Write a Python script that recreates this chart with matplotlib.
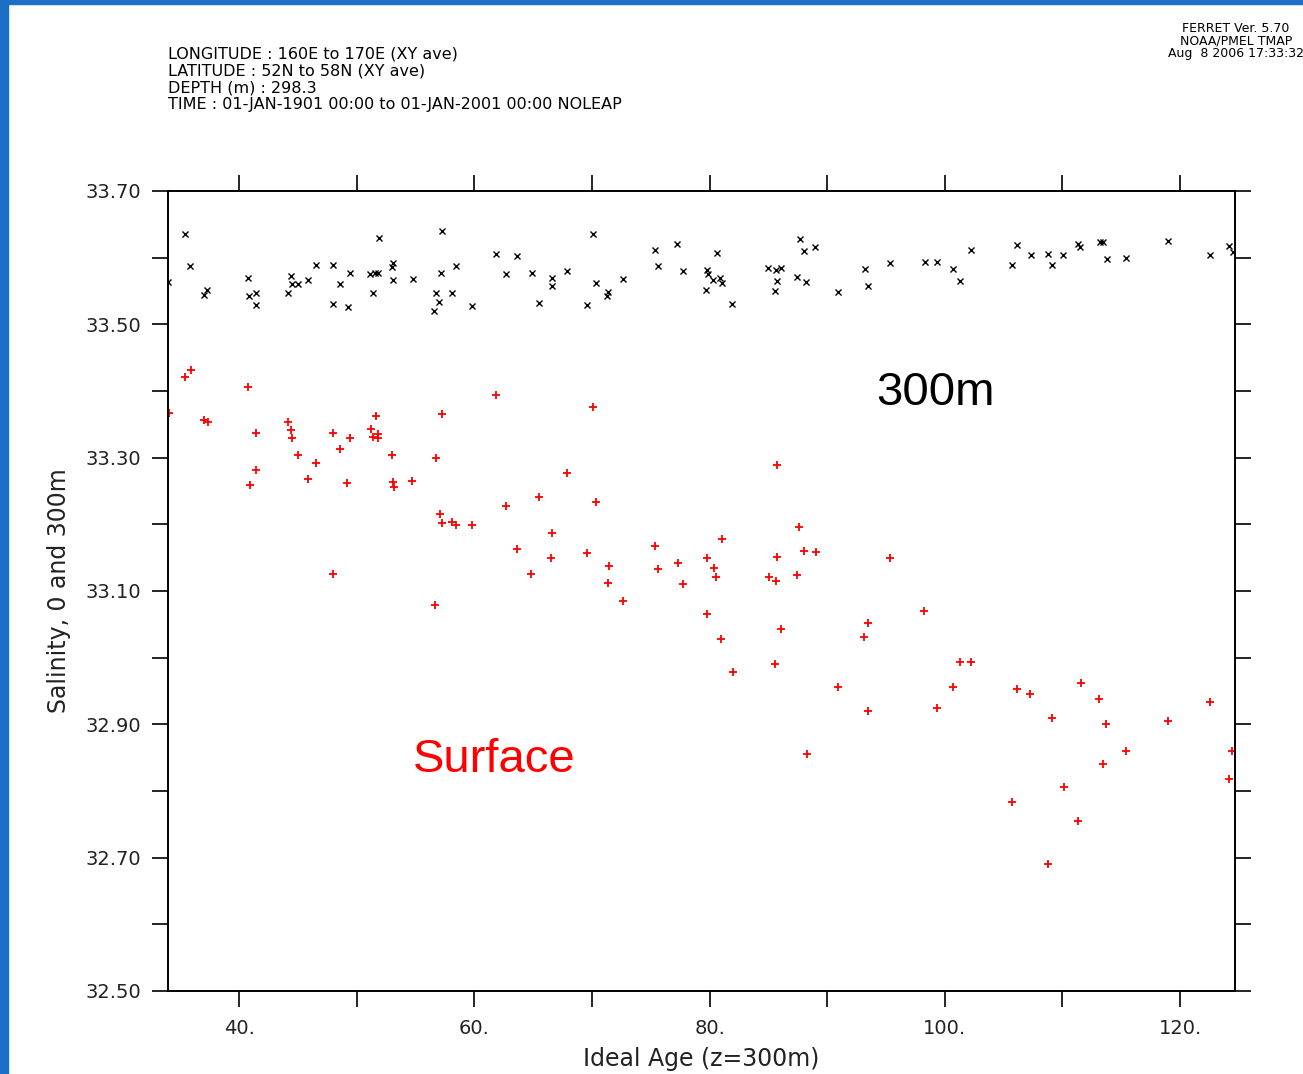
import numpy as np
import matplotlib
matplotlib.use("Agg")
import matplotlib.pyplot as plt
from matplotlib.patches import Rectangle
from matplotlib.ticker import MultipleLocator, FixedLocator

# ---------------------------------------------------------------
# data: ideal age (x) vs salinity (y)
# ---------------------------------------------------------------
age_300m = [35.38, 35.81, 33.94, 37.25, 37.00, 40.74, 40.82, 41.42, 41.42, 44.40,
            44.48, 44.99, 44.14, 45.84, 46.52, 47.97, 48.56, 47.97, 49.24, 49.41,
            51.11, 51.54, 51.79, 51.88, 51.37, 53.07, 52.98, 53.07, 54.77, 57.23,
            57.15, 58.43, 56.73, 56.98, 56.56, 58.09, 59.79, 61.83, 63.62, 62.69,
            64.89, 65.49, 66.59, 66.59, 67.87, 70.08, 70.34, 69.57, 71.36, 71.27,
            72.63, 75.35, 75.61, 77.22, 77.73, 80.63, 79.78, 79.86, 80.29, 80.88,
            81.05, 79.69, 81.90, 84.97, 85.64, 86.06, 85.72, 85.55, 87.68, 88.02,
            88.96, 87.43, 88.19, 90.91, 93.21, 93.46, 95.33, 98.31, 99.33, 100.69,
            101.29, 102.22, 106.13, 105.71, 107.32, 108.77, 109.11, 110.04, 111.32, 111.49,
            113.19, 113.45, 113.79, 115.41, 118.98, 122.55, 124.17, 124.51]
sal_300m = [33.636, 33.588, 33.564, 33.552, 33.544, 33.570, 33.543, 33.547, 33.529, 33.573,
            33.561, 33.561, 33.547, 33.567, 33.589, 33.589, 33.561, 33.531, 33.526, 33.577,
            33.576, 33.577, 33.577, 33.630, 33.547, 33.592, 33.586, 33.567, 33.568, 33.640,
            33.577, 33.588, 33.547, 33.534, 33.520, 33.547, 33.528, 33.606, 33.603, 33.576,
            33.577, 33.532, 33.570, 33.558, 33.580, 33.636, 33.562, 33.529, 33.549, 33.543,
            33.568, 33.612, 33.588, 33.621, 33.580, 33.607, 33.582, 33.576, 33.567, 33.570,
            33.562, 33.552, 33.531, 33.585, 33.582, 33.585, 33.565, 33.550, 33.628, 33.610,
            33.616, 33.571, 33.564, 33.549, 33.583, 33.558, 33.592, 33.594, 33.594, 33.583,
            33.565, 33.612, 33.619, 33.589, 33.604, 33.606, 33.589, 33.604, 33.620, 33.616,
            33.624, 33.624, 33.598, 33.600, 33.625, 33.604, 33.618, 33.609]

age_surf = [35.38, 35.89, 40.74, 34.02, 37.00, 37.34, 41.42, 44.14, 44.40, 44.48,
            44.99, 46.52, 45.84, 41.42, 40.91, 47.97, 49.41, 48.56, 49.16, 47.97,
            51.62, 51.20, 51.79, 51.37, 51.79, 52.98, 53.07, 53.15, 54.69, 57.23,
            56.73, 57.07, 57.23, 58.09, 58.43, 59.79, 56.64, 61.83, 70.08, 67.87,
            65.49, 62.69, 70.34, 66.59, 63.62, 66.51, 64.81, 69.57, 71.44, 71.36,
            72.63, 75.35, 75.61, 77.30, 77.73, 81.05, 79.78, 80.37, 80.54, 79.78,
            80.97, 81.96, 85.72, 87.59, 85.72, 88.02, 89.04, 85.03, 85.64, 87.43,
            86.06, 85.55, 95.33, 98.22, 93.46, 93.12, 90.91, 93.46, 88.28, 101.29,
            102.22, 100.69, 99.33, 106.13, 107.23, 111.57, 113.11, 109.11, 113.70, 118.98,
            122.55, 115.41, 113.45, 124.43, 124.17, 110.13, 105.71, 111.32, 108.77]
sal_surf = [33.421, 33.432, 33.406, 33.367, 33.357, 33.354, 33.337, 33.354, 33.342, 33.330,
            33.304, 33.292, 33.268, 33.282, 33.259, 33.337, 33.330, 33.313, 33.262, 33.126,
            33.363, 33.343, 33.336, 33.331, 33.330, 33.304, 33.264, 33.256, 33.265, 33.366,
            33.300, 33.216, 33.202, 33.204, 33.199, 33.199, 33.079, 33.394, 33.376, 33.277,
            33.241, 33.228, 33.234, 33.187, 33.163, 33.150, 33.126, 33.157, 33.138, 33.112,
            33.085, 33.168, 33.133, 33.142, 33.111, 33.178, 33.150, 33.135, 33.121, 33.066,
            33.028, 32.979, 33.289, 33.196, 33.151, 33.160, 33.159, 33.121, 33.115, 33.124,
            33.043, 32.991, 33.150, 33.070, 33.052, 33.031, 32.956, 32.920, 32.856, 32.994,
            32.994, 32.956, 32.925, 32.953, 32.946, 32.962, 32.938, 32.910, 32.901, 32.905,
            32.934, 32.860, 32.841, 32.860, 32.818, 32.806, 32.783, 32.755, 32.690]

x_major = [40, 60, 80, 100, 120]
x_labels = ["40.", "60.", "80.", "100.", "120."]
y_major = [32.5, 32.7, 32.9, 33.1, 33.3, 33.5, 33.7]
y_labels = ["32.50", "32.70", "32.90", "33.10", "33.30", "33.50", "33.70"]

header = ["LONGITUDE : 160E to 170E (XY ave)",
          "LATITUDE : 52N to 58N (XY ave)",
          "DEPTH (m) : 298.3",
          "TIME : 01-JAN-1901 00:00 to 01-JAN-2001 00:00 NOLEAP"]
stamp = ["FERRET Ver. 5.70", "NOAA/PMEL TMAP", "Aug  8 2006 17:33:32"]

# ---------------------------------------------------------------
W, H = 1303, 1074
fig = plt.figure(figsize=(W / 100, H / 100), dpi=100)
fig.patch.set_facecolor("white")

# blue slide border (left and top)
fig.patches.append(Rectangle((0, 0), 8 / W, 1, transform=fig.transFigure,
                             color="#1c6fc6", zorder=0))
fig.patches.append(Rectangle((0, 1 - 4 / H), 1, 4 / H, transform=fig.transFigure,
                             color="#1c6fc6", zorder=0))

ax = fig.add_axes([168 / W, 83 / H, 1067.3 / W, 800 / H])
ax.plot(age_300m, sal_300m, ls="none", marker="x", ms=4.5, mew=1.0, color="black")
ax.plot(age_surf, sal_surf, ls="none", marker="+", ms=6, mew=1.3, color="red")

ax.set_xlim(33.94, 124.70)
ax.set_ylim(32.5, 33.7)

ax.xaxis.set_major_locator(FixedLocator(x_major))
ax.set_xticklabels(x_labels)
ax.xaxis.set_minor_locator(MultipleLocator(10))
ax.yaxis.set_major_locator(FixedLocator(y_major))
ax.set_yticklabels(y_labels)
ax.yaxis.set_minor_locator(MultipleLocator(0.1))

ax.tick_params(which="both", direction="out", length=11.5, width=1.2,
               top=True, right=True, colors="black")
ax.tick_params(axis="x", pad=9, labelsize=14, labelcolor="#222222")
ax.tick_params(axis="y", pad=8, labelsize=14, labelcolor="#222222")
for s in ax.spines.values():
    s.set_linewidth(1.4)

ax.set_xlabel("Ideal Age (z=300m)", fontsize=17, color="#222222", labelpad=6)
ax.set_ylabel("Salinity, 0 and 300m", fontsize=17, color="#222222", labelpad=10)

ax.text(94.14, 33.379, "300m", fontsize=34, family="Liberation Sans",
        color="black", va="baseline", ha="left")
ax.text(54.77, 32.829, "Surface", fontsize=34, family="Liberation Sans",
        color="red", va="baseline", ha="left")

for i, line in enumerate(header):
    fig.text(168 / W, 1 - (54 + 17 * i) / H, line, fontsize=11.5,
             va="center", ha="left", color="black")
for i, line in enumerate(stamp):
    fig.text(1236 / W, 1 - (28 + 12.5 * i) / H, line, fontsize=9,
             va="center", ha="center", color="black")

fig.savefig("out.png", dpi=100, facecolor="white")
